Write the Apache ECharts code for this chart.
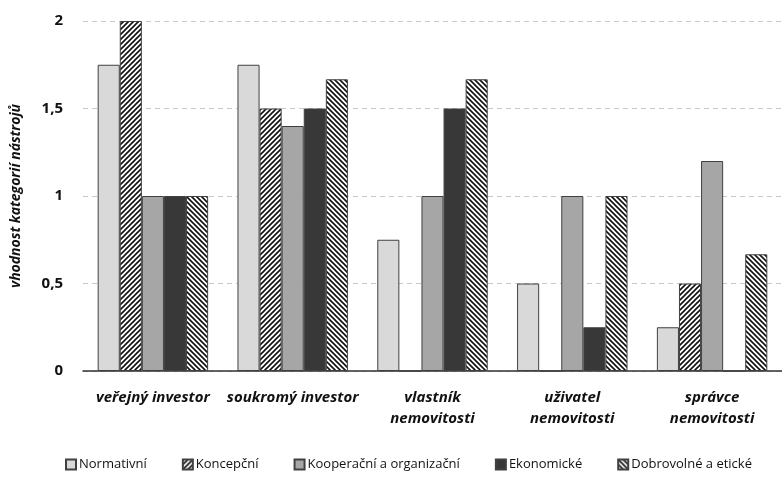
<!DOCTYPE html>
<html>
<head>
<meta charset="utf-8">
<script src="https://cdn.jsdelivr.net/npm/echarts@6/dist/echarts.min.js"></script>
<style>
  html, body { margin: 0; padding: 0; background: #fff; }
  #chart { width: 782px; height: 481px; }
</style>
</head>
<body>
<div id="chart"></div>
<script>
var categories = ['veřejný investor', 'soukromý investor', 'vlastník\nnemovitosti', 'uživatel\nnemovitosti', 'správce\nnemovitosti'];
var seriesNames = ['Normativní', 'Koncepční', 'Kooperační a organizační', 'Ekonomické', 'Dobrovolné a etické'];

var normativni = [1.75, 1.75, 0.75, 0.5, 0.25];
var koncepcni = [2, 1.5, 0, 0, 0.5];
var kooperacni = [1, 1.4, 1, 1, 1.2];
var ekonomicke = [1, 1.5, 1.5, 0.25, 0];
var dobrovolne = [1, 1.667, 1.667, 1, 0.667];

// hatch pattern, dir 1 = "/" , dir -1 = "\"
function hatch(dir) {
  var s = 5;
  var c = document.createElement('canvas');
  c.width = s; c.height = s;
  var ctx = c.getContext('2d');
  ctx.fillStyle = '#fff';
  ctx.fillRect(0, 0, s, s);
  ctx.strokeStyle = '#111';
  ctx.lineWidth = 1.6;
  ctx.beginPath();
  if (dir > 0) {
    ctx.moveTo(-1, s + 1); ctx.lineTo(s + 1, -1);
    ctx.moveTo(-1, 1); ctx.lineTo(1, -1);
    ctx.moveTo(s - 1, s + 1); ctx.lineTo(s + 1, s - 1);
  } else {
    ctx.moveTo(-1, -1); ctx.lineTo(s + 1, s + 1);
    ctx.moveTo(s - 1, -1); ctx.lineTo(s + 1, 1);
    ctx.moveTo(-1, s - 1); ctx.lineTo(1, s + 1);
  }
  ctx.stroke();
  return { image: c, repeat: 'repeat' };
}

var fills = ['#d9d9d9', hatch(1), '#a6a6a6', '#383838', hatch(-1)];
var values = [normativni, koncepcni, kooperacni, ekonomicke, dobrovolne];

var chart = echarts.init(document.getElementById('chart'));

var series = seriesNames.map(function (name, i) {
  return {
    name: name,
    type: 'bar',
    data: values[i],
    barGap: 0,
    barCategoryGap: '21%',
    itemStyle: {
      color: fills[i],
      borderColor: '#404040',
      borderWidth: 1
    }
  };
});

var option = {
  backgroundColor: '#fff',
  animation: false,
  textStyle: { fontFamily: 'Open Sans' },
  grid: { left: 83, right: 0, top: 21, bottom: 110 },
  legend: {
    bottom: 5,
    left: 60,
    icon: 'rect',
    itemWidth: 10,
    itemHeight: 10,
    itemGap: 35,
    textStyle: { fontSize: 13, color: '#111', fontFamily: 'Open Sans', padding: [0, 0, 0, -2] },
    data: seriesNames
  },
  xAxis: {
    type: 'category',
    data: categories,
    axisLine: { lineStyle: { color: '#333', width: 1.5 } },
    axisTick: { show: false },
    axisLabel: {
      interval: 0,
      color: '#111',
      fontSize: 15,
      fontWeight: 'bold',
      fontStyle: 'italic',
      margin: 16,
      lineHeight: 21
    }
  },
  yAxis: {
    type: 'value',
    min: 0,
    max: 2,
    interval: 0.5,
    name: 'vhodnost kategorií nástrojů',
    nameLocation: 'middle',
    nameGap: 60,
    nameTextStyle: { fontSize: 14, fontWeight: 'bold', fontStyle: 'italic', color: '#111' },
    axisLine: { show: false },
    axisTick: { show: false },
    axisLabel: {
      color: '#111',
      fontSize: 15,
      fontWeight: 'bold',
      margin: 20,
      formatter: function (v) { return String(v).replace('.', ','); }
    },
    splitLine: { lineStyle: { color: '#c8c8c8', type: [5, 4] } }
  },
  series: series
};

chart.setOption(option);
</script>
</body>
</html>
